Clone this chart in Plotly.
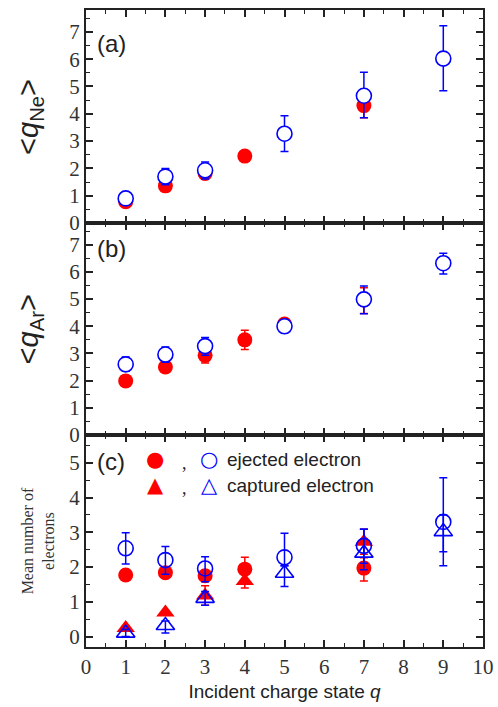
import plotly.graph_objects as go

# ---------------- data ----------------
# panel (a)  <q_Ne>
a_red_x = [1, 2, 3, 4, 7]
a_red_y = [0.78, 1.36, 1.81, 2.45, 4.30]
a_red_ep = [0.05, 0.08, 0.10, 0.15, 0.45]
a_red_em = [0.05, 0.08, 0.10, 0.15, 0.45]
a_blue_x = [1, 2, 3, 5, 7, 9]
a_blue_y = [0.90, 1.70, 1.93, 3.27, 4.66, 6.02]
a_blue_ep = [0.10, 0.30, 0.30, 0.66, 0.86, 1.20]
a_blue_em = [0.10, 0.30, 0.32, 0.65, 0.81, 1.18]

# panel (b)  <q_Ar>
b_red_x = [1, 2, 3, 4, 5, 7]
b_red_y = [1.99, 2.50, 2.93, 3.50, 4.08, 4.97]
b_red_ep = [0.05, 0.10, 0.28, 0.35, 0.10, 0.45]
b_red_em = [0.05, 0.10, 0.28, 0.35, 0.10, 0.50]
b_blue_x = [1, 2, 3, 5, 7, 9]
b_blue_y = [2.60, 2.96, 3.27, 4.00, 4.99, 6.32]
b_blue_ep = [0.27, 0.28, 0.32, 0.20, 0.49, 0.37]
b_blue_em = [0.25, 0.28, 0.34, 0.23, 0.53, 0.40]

# panel (c)  mean number of electrons
c_red_circ_x = [1, 2, 3, 4, 7]
c_red_circ_y = [1.77, 1.84, 1.75, 1.94, 1.97]
c_red_circ_ep = [0.05, 0.15, 0.15, 0.34, 0.30]
c_red_circ_em = [0.05, 0.15, 0.15, 0.34, 0.37]
c_red_tri_x = [1, 2, 3, 4, 7]
c_red_tri_y = [0.25, 0.69, 1.18, 1.60, 2.73]
c_red_tri_ep = [0.05, 0.05, 0.28, 0.20, 0.36]
c_red_tri_em = [0.05, 0.05, 0.28, 0.20, 0.36]
c_blue_circ_x = [1, 2, 3, 5, 7, 9]
c_blue_circ_y = [2.54, 2.20, 1.96, 2.28, 2.61, 3.30]
c_blue_circ_ep = [0.45, 0.39, 0.34, 0.69, 0.48, 1.27]
c_blue_circ_em = [0.45, 0.41, 0.38, 0.24, 0.50, 1.26]
c_blue_tri_x = [1, 2, 3, 5, 7, 9]
c_blue_tri_y = [0.10, 0.32, 1.10, 1.82, 2.40, 3.02]
c_blue_tri_ep = [0.10, 0.13, 0.20, 0.22, 0.69, 0.48]
c_blue_tri_em = [0.10, 0.22, 0.20, 0.38, 0.48, 0.58]

x_ticks = list(range(0, 11))
ab_y_ticks = list(range(0, 8))
c_y_ticks = list(range(0, 6))

RED = "#ff0000"
BLUE = "#0000ff"
SERIF = "Liberation Serif, Times New Roman, serif"
SANS = "Liberation Sans, Arial, sans-serif"

fig = go.Figure()


def add(x, y, ep, em, color, symbol, filled, xa, ya, fillcol="white"):
    fig.add_trace(go.Scatter(
        x=x, y=y, mode="markers", xaxis=xa, yaxis=ya, showlegend=False,
        marker=dict(symbol=symbol, size=15 if "circle" in symbol else 16,
                    color=color if filled else fillcol,
                    line=dict(color=color, width=0 if filled else 1.6)),
        error_y=dict(type="data", symmetric=False, array=ep, arrayminus=em,
                     color=color, thickness=1.5, width=4),
    ))


add(a_red_x, a_red_y, a_red_ep, a_red_em, RED, "circle", True, "x", "y")
add(a_blue_x, a_blue_y, a_blue_ep, a_blue_em, BLUE, "circle", False, "x", "y")
add(b_red_x, b_red_y, b_red_ep, b_red_em, RED, "circle", True, "x2", "y2")
add(b_blue_x, b_blue_y, b_blue_ep, b_blue_em, BLUE, "circle", False, "x2", "y2")
add(c_red_circ_x, c_red_circ_y, c_red_circ_ep, c_red_circ_em, RED, "circle", True, "x3", "y3")
add(c_red_tri_x, c_red_tri_y, c_red_tri_ep, c_red_tri_em, RED, "triangle-up", True, "x3", "y3")
add(c_blue_circ_x, c_blue_circ_y, c_blue_circ_ep, c_blue_circ_em, BLUE, "circle", False, "x3", "y3",
    fillcol="rgba(0,0,0,0)")
add(c_blue_tri_x, c_blue_tri_y, c_blue_tri_ep, c_blue_tri_em, BLUE, "triangle-up", False, "x3", "y3",
    fillcol="rgba(0,0,0,0)")

# body margin is removed in the page, so the figure fills the 498x707 window;
# plot area at x 86..483 and y 10..647
W, H = 498, 707
ML, MR, MT, MB = 86, 15, 10, 60
h = float(H - MT - MB)
dom_a = [(637 - 213) / h, 1.0]
dom_b = [(637 - 425) / h, (637 - 213) / h]
dom_c = [0.0, (637 - 425) / h]

common_x = dict(range=[0, 10], tickmode="array", tickvals=x_ticks,
                ticks="inside", ticklen=7, tickwidth=1.5, tickcolor="#222",
                minor=dict(ticks="inside", ticklen=4, tickwidth=1.2, tickcolor="#222", dtick=0.5,
                           tick0=0, showgrid=False),
                showline=True, linecolor="#222", linewidth=2, mirror="allticks",
                showgrid=False, zeroline=False, domain=[0, 1],
                tickfont=dict(family=SERIF, size=21, color="#333"))
common_y = dict(ticks="inside", ticklen=7, tickwidth=1.5, tickcolor="#222",
                minor=dict(ticks="inside", ticklen=4, tickwidth=1.2, tickcolor="#222", dtick=0.5,
                           tick0=0, showgrid=False),
                showline=True, linecolor="#222", linewidth=2, mirror="allticks",
                showgrid=False, zeroline=False,
                tickfont=dict(family=SERIF, size=21, color="#333"), tickmode="array")

fig.update_layout(
    width=W, height=H,
    margin=dict(l=ML, r=MR, t=MT, b=MB, autoexpand=False),
    plot_bgcolor="white", paper_bgcolor="white",
    xaxis=dict(common_x, anchor="y", showticklabels=False),
    xaxis2=dict(common_x, anchor="y2", showticklabels=False),
    xaxis3=dict(common_x, anchor="y3", showticklabels=True,
                title=dict(text="Incident charge state <i>q</i>",
                           font=dict(family=SANS, size=19, color="#222"), standoff=6)),
    yaxis=dict(common_y, anchor="x", domain=dom_a, range=[0, 7.8], tickvals=ab_y_ticks),
    yaxis2=dict(common_y, anchor="x2", domain=dom_b, range=[0, 7.8], tickvals=ab_y_ticks),
    yaxis3=dict(common_y, anchor="x3", domain=dom_c, range=[-0.3, 5.8], tickvals=c_y_ticks),
)

ann = []
# y-axis titles
ann.append(dict(text="&lt;<i>q</i><sub>Ne</sub>&gt;", xref="paper", yref="y domain",
                x=-0.14, y=0.5, textangle=-90, showarrow=False,
                font=dict(family=SANS, size=29, color="#222"), xanchor="center", yanchor="middle"))
ann.append(dict(text="&lt;<i>q</i><sub>Ar</sub>&gt;", xref="paper", yref="y2 domain",
                x=-0.14, y=0.5, textangle=-90, showarrow=False,
                font=dict(family=SANS, size=29, color="#222"), xanchor="center", yanchor="middle"))
ann.append(dict(text="Mean number of<br>electrons", xref="paper", yref="y3 domain",
                x=-0.12, y=0.5, textangle=-90, showarrow=False,
                font=dict(family=SERIF, size=16, color="#333"), xanchor="center", yanchor="middle"))
# panel labels
for lab, yr, yy in [("(a)", "y domain", 0.845), ("(b)", "y2 domain", 0.88), ("(c)", "y3 domain", 0.873)]:
    ann.append(dict(text=lab, xref="x domain", yref=yr, x=0.022, y=yy, showarrow=False,
                    xanchor="left", yanchor="middle",
                    font=dict(family=SANS, size=24, color="#222")))
# legend in panel (c)
leg_rows = [
    ("●", "○", "ejected electron", 0.885),
    ("▲", "△", "captured electron", 0.763),
]
for filled_sym, open_sym, label, yy in leg_rows:
    ann.append(dict(text=filled_sym, xref="x3 domain", yref="y3 domain", x=(155 - 86) / 397, y=yy,
                    showarrow=False, xanchor="center", yanchor="middle",
                    font=dict(family="DejaVu Sans", size=21, color=RED)))
    ann.append(dict(text=",", xref="x3 domain", yref="y3 domain", x=(184 - 86) / 397, y=yy - 0.015,
                    showarrow=False, xanchor="center", yanchor="middle",
                    font=dict(family=SERIF, size=18, color="#222")))
    ann.append(dict(text=open_sym, xref="x3 domain", yref="y3 domain", x=(209 - 86) / 397, y=yy,
                    showarrow=False, xanchor="center", yanchor="middle",
                    font=dict(family="DejaVu Sans", size=21, color=BLUE)))
    ann.append(dict(text=label, xref="x3 domain", yref="y3 domain", x=(225 - 86) / 397, y=yy,
                    showarrow=False, xanchor="left", yanchor="middle",
                    font=dict(family=SANS, size=19, color="#222")))
fig.update_layout(annotations=ann)

fig.write_html(
    "out.html",
    config={"displayModeBar": False},
    post_script="document.body.style.margin='0';document.body.style.overflow='hidden';",
)
